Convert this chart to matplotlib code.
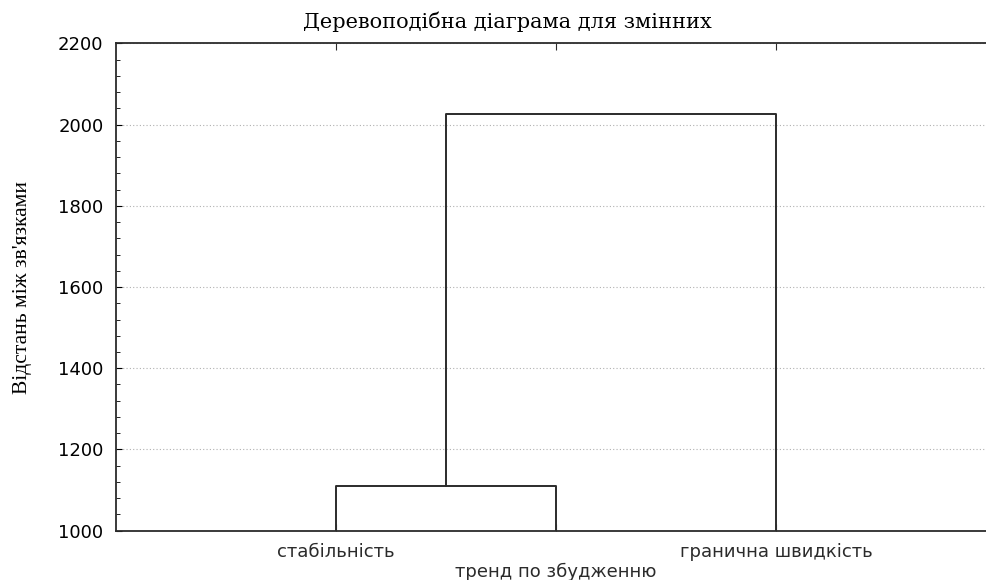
import matplotlib.pyplot as plt
from matplotlib.ticker import MultipleLocator

# leaves in dendrogram order and the two joins
leaves = ["стабільність", "тренд по збудженню", "гранична швидкість"]
join_heights = [1110, 2025]   # (1,2) then ((1,2),3)
y_min, y_max = 1000, 2200

plt.rcParams['font.family'] = ['DejaVu Sans']

fig = plt.figure(figsize=(9.86, 5.8), dpi=100)
ax = fig.add_axes([0.1176, 0.085, 0.8925, 0.8403])

pos = [1, 2, 3]
lc = '#2b2b2b'
# first join: leaf 1 and leaf 2
h1 = join_heights[0]
ax.plot([pos[0], pos[0], pos[1], pos[1]], [y_min, h1, h1, y_min], color=lc, lw=1.4)
# second join: cluster mid and leaf 3
mid = (pos[0] + pos[1]) / 2
h2 = join_heights[1]
ax.plot([mid, mid, pos[2], pos[2]], [h1, h2, h2, y_min], color=lc, lw=1.4)

ax.set_xlim(0, 4)
ax.set_ylim(y_min, y_max)
ax.yaxis.set_major_locator(MultipleLocator(200))
ax.yaxis.set_minor_locator(MultipleLocator(40))
ax.grid(axis='y', which='major', color='#b0b0b0', ls=(0, (1, 2)), lw=0.8)

ax.set_xticks(pos)
labs = ax.set_xticklabels([leaves[0], '\n' + leaves[1], leaves[2]])
for t in labs:
    t.set_linespacing(1.1)
ax.tick_params(axis='x', direction='in', top=True, bottom=True, length=5,
               labelsize=13, pad=9, colors=lc)
ax.tick_params(axis='y', which='both', direction='in', length=4, labelsize=13, pad=9)
ax.tick_params(axis='y', which='minor', length=3)

for s in ['left', 'top', 'bottom']:
    ax.spines[s].set_color(lc)
    ax.spines[s].set_linewidth(1.3)
ax.spines['right'].set_visible(False)

fig.text(0.515, 0.962, "Деревоподібна діаграма для змінних", family='DejaVu Serif',
         fontsize=15, ha='center', va='center')
ax.set_ylabel("Відстань між зв'язками", family='Liberation Serif', fontsize=15.5,
              labelpad=19)

fig.savefig('out.png', dpi=100)
